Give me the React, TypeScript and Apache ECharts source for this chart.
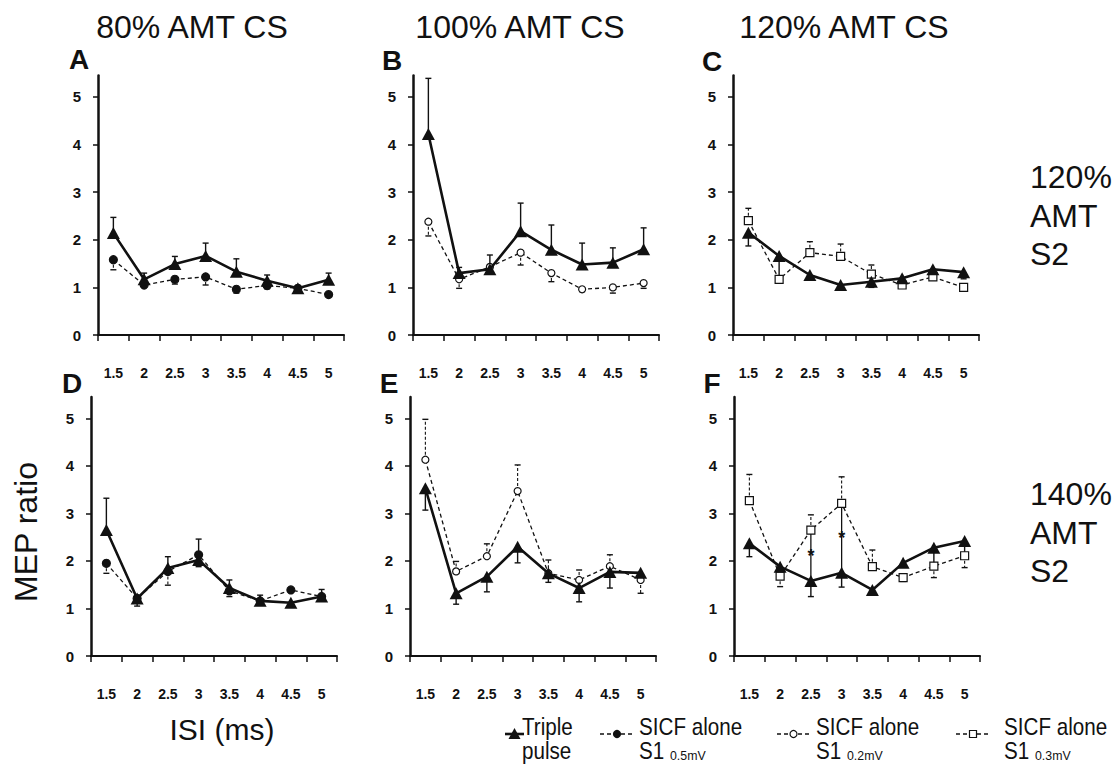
import React, { useEffect, useRef } from "react";
import * as echarts from "echarts";

const ISI = ["1.5", "2", "2.5", "3", "3.5", "4", "4.5", "5"];
const Y_TICKS = [0, 1, 2, 3, 4, 5];

// Panel A: 80% AMT CS, 120% AMT S2 (SICF S1 0.5 mV)
const A_TRIPLE = [2.14, 1.17, 1.49, 1.66, 1.33, 1.14, 0.98, 1.16];
const A_TRIPLE_ERR = [0.33, 0.13, 0.16, 0.27, 0.27, 0.12, 0.05, 0.14];
const A_SICF = [1.58, 1.05, 1.17, 1.22, 0.96, 1.04, 0.98, 0.85];
const A_SICF_ERR = [-0.21, -0.05, -0.1, -0.17, -0.08, -0.07, -0.03, -0.03];

// Panel B: 100% AMT CS, 120% AMT S2 (SICF S1 0.2 mV)
const B_TRIPLE = [4.22, 1.3, 1.38, 2.18, 1.79, 1.48, 1.52, 1.8];
const B_TRIPLE_ERR = [1.17, 0.12, 0.3, 0.59, 0.52, 0.45, 0.31, 0.45];
const B_SICF = [2.38, 1.17, 1.43, 1.73, 1.3, 0.96, 1.0, 1.09];
const B_SICF_ERR = [-0.3, -0.19, -0.1, -0.26, -0.18, -0.05, -0.12, -0.11];

// Panel C: 120% AMT CS, 120% AMT S2 (SICF S1 0.3 mV)
const C_TRIPLE = [2.15, 1.66, 1.26, 1.05, 1.12, 1.19, 1.38, 1.32];
const C_TRIPLE_ERR = [-0.28, -0.46, -0.08, -0.05, -0.12, -0.05, -0.05, -0.14];
const C_SICF = [2.4, 1.17, 1.73, 1.65, 1.28, 1.05, 1.22, 1.0];
const C_SICF_ERR = [0.26, 0.05, 0.23, 0.26, 0.19, 0.04, 0.05, 0.04];

// Panel D: 80% AMT CS, 140% AMT S2 (SICF S1 0.5 mV)
const D_TRIPLE = [2.65, 1.21, 1.85, 2.02, 1.43, 1.16, 1.12, 1.25];
const D_TRIPLE_ERR = [0.67, -0.16, 0.24, 0.44, 0.17, 0.12, -0.05, 0.15];
const D_SICF = [1.95, 1.21, 1.78, 2.13, 1.37, 1.16, 1.39, 1.25];
const D_SICF_ERR = [-0.21, -0.05, -0.29, -0.25, -0.12, -0.05, -0.05, -0.05];

// Panel E: 100% AMT CS, 140% AMT S2 (SICF S1 0.2 mV)
const E_TRIPLE = [3.53, 1.32, 1.67, 2.3, 1.74, 1.43, 1.77, 1.75];
const E_TRIPLE_ERR = [-0.46, -0.23, -0.32, -0.34, -0.19, -0.29, -0.34, -0.05];
const E_SICF = [4.13, 1.78, 2.1, 3.47, 1.74, 1.6, 1.89, 1.6];
const E_SICF_ERR = [0.85, 0.21, 0.26, 0.55, 0.28, 0.21, 0.24, -0.28];

// Panel F: 120% AMT CS, 140% AMT S2 (SICF S1 0.3 mV)
const F_TRIPLE = [2.37, 1.88, 1.58, 1.75, 1.39, 1.96, 2.28, 2.42];
const F_TRIPLE_ERR = [-0.28, -0.05, -0.33, -0.3, -0.05, -0.05, -0.35, -0.3];
const F_SICF = [3.27, 1.68, 2.65, 3.21, 1.88, 1.65, 1.89, 2.11];
const F_SICF_ERR = [0.55, -0.22, 0.32, 0.56, 0.35, -0.08, -0.24, -0.25];

// Significance markers in F: [category index, from, to, star position]
const F_SIG = [
  [2, 1.58, 2.65, 2.16],
  [3, 1.75, 3.21, 2.55],
];

const COL_TITLES = ["80% AMT CS", "100% AMT CS", "120% AMT CS"];
const PANEL_LETTERS = ["A", "B", "C", "D", "E", "F"];

const FONT = "'Liberation Sans', Arial, Helvetica, sans-serif";
const INK = "#111";

type Panel = {
  triple: number[];
  tripleErr: number[];
  sicf: number[];
  sicfErr: number[];
  kind: "filled" | "circle" | "square";
};

const PANELS: Panel[] = [
  { triple: A_TRIPLE, tripleErr: A_TRIPLE_ERR, sicf: A_SICF, sicfErr: A_SICF_ERR, kind: "filled" },
  { triple: B_TRIPLE, tripleErr: B_TRIPLE_ERR, sicf: B_SICF, sicfErr: B_SICF_ERR, kind: "circle" },
  { triple: C_TRIPLE, tripleErr: C_TRIPLE_ERR, sicf: C_SICF, sicfErr: C_SICF_ERR, kind: "square" },
  { triple: D_TRIPLE, tripleErr: D_TRIPLE_ERR, sicf: D_SICF, sicfErr: D_SICF_ERR, kind: "filled" },
  { triple: E_TRIPLE, tripleErr: E_TRIPLE_ERR, sicf: E_SICF, sicfErr: E_SICF_ERR, kind: "circle" },
  { triple: F_TRIPLE, tripleErr: F_TRIPLE_ERR, sicf: F_SICF, sicfErr: F_SICF_ERR, kind: "square" },
];

const GRID_LEFTS = [98, 413, 733, 91, 410, 734];
const GRID_W = 246;
const ROW_TOP = [75.5, 397];
const ROW_H = [259.5, 259];

function errorSeries(idx: number, vals: number[], errs: number[], dashed: boolean, lw: number) {
  return {
    type: "custom",
    xAxisIndex: idx,
    yAxisIndex: idx,
    z: 3,
    silent: true,
    data: vals.map((v, i) => [i, v, errs[i]]),
    encode: { x: 0, y: 1 },
    renderItem: (_params: any, api: any) => {
      const i = api.value(0);
      const v = api.value(1);
      const e = api.value(2);
      const p0 = api.coord([i, v]);
      const p1 = api.coord([i, v + e]);
      const cap = 3;
      return {
        type: "group",
        children: [
          {
            type: "line",
            shape: { x1: p0[0], y1: p0[1], x2: p1[0], y2: p1[1] },
            style: { stroke: INK, lineWidth: lw, lineDash: dashed ? [3, 2] : null },
          },
          {
            type: "line",
            shape: { x1: p1[0] - cap, y1: p1[1], x2: p1[0] + cap, y2: p1[1] },
            style: { stroke: INK, lineWidth: 1.4 },
          },
        ],
      };
    },
  };
}

function buildOption() {
  const grid: any[] = [];
  const xAxis: any[] = [];
  const yAxis: any[] = [];
  const series: any[] = [];

  PANELS.forEach((p, idx) => {
    const row = idx < 3 ? 0 : 1;
    grid.push({
      left: GRID_LEFTS[idx],
      top: ROW_TOP[row],
      width: GRID_W,
      height: ROW_H[row],
      containLabel: false,
      outerBoundsMode: "none",
    });
    xAxis.push({
      type: "category",
      gridIndex: idx,
      data: ISI,
      boundaryGap: true,
      axisLine: { show: true, lineStyle: { color: INK, width: 2 } },
      axisTick: { show: true, length: 6, inside: false, lineStyle: { color: INK, width: 1.5 } },
      axisLabel: {
        show: true,
        margin: 31,
        color: INK,
        fontSize: 14,
        fontWeight: "bold",
        fontFamily: FONT,
        interval: 0,
      },
      splitLine: { show: false },
    });
    yAxis.push({
      type: "value",
      gridIndex: idx,
      min: 0,
      max: 5.45,
      interval: 1,
      axisLine: { show: true, lineStyle: { color: INK, width: 2.5 } },
      axisTick: {
        show: true,
        length: 5,
        inside: false,
        customValues: Y_TICKS,
        lineStyle: { color: INK, width: 1.5 },
      },
      axisLabel: {
        show: true,
        margin: 17,
        color: INK,
        fontSize: 15,
        fontWeight: "bold",
        fontFamily: FONT,
        customValues: Y_TICKS,
        formatter: (v: number) => (Number.isInteger(v) ? String(v) : ""),
      },
      splitLine: { show: false },
    });

    const sicfSymbol = p.kind === "square" ? "rect" : "circle";
    const sicfFill = p.kind === "filled" ? INK : "#fff";
    const sicfSize = p.kind === "filled" ? 8 : p.kind === "circle" ? 7 : 8;

    series.push(errorSeries(idx, p.sicf, p.sicfErr, true, 1.1));
    series.push({
      type: "line",
      name: p.kind === "filled" ? "SICF alone S1 0.5mV" : p.kind === "circle" ? "SICF alone S1 0.2mV" : "SICF alone S1 0.3mV",
      xAxisIndex: idx,
      yAxisIndex: idx,
      data: p.sicf,
      z: 4,
      symbol: sicfSymbol,
      symbolSize: sicfSize,
      showSymbol: true,
      lineStyle: { color: INK, width: 1.3, type: [4, 3] },
      itemStyle: { color: sicfFill, borderColor: INK, borderWidth: 1.2 },
      emphasis: { disabled: true },
    });
    series.push(errorSeries(idx, p.triple, p.tripleErr, false, 1.4));
    series.push({
      type: "line",
      name: "Triple pulse",
      xAxisIndex: idx,
      yAxisIndex: idx,
      data: p.triple,
      z: 5,
      symbol: "triangle",
      symbolSize: [13, 12],
      showSymbol: true,
      lineStyle: { color: INK, width: 2.6 },
      itemStyle: { color: INK, borderColor: INK, borderWidth: 0 },
      emphasis: { disabled: true },
    });
  });

  // significance lines with stars in panel F
  series.push({
    type: "custom",
    xAxisIndex: 5,
    yAxisIndex: 5,
    z: 3,
    silent: true,
    data: F_SIG,
    encode: { x: 0, y: 1 },
    renderItem: (_params: any, api: any) => {
      const i = api.value(0);
      const a = api.coord([i, api.value(1)]);
      const b = api.coord([i, api.value(2)]);
      const s = api.coord([i, api.value(3)]);
      return {
        type: "group",
        children: [
          {
            type: "line",
            shape: { x1: a[0], y1: a[1], x2: b[0], y2: b[1] },
            style: { stroke: INK, lineWidth: 1.3 },
          },
          {
            type: "text",
            x: s[0],
            y: s[1] + 3,
            style: {
              text: "*",
              fill: INK,
              fontSize: 18,
              fontWeight: "bold",
              fontFamily: FONT,
              align: "center",
              verticalAlign: "middle",
            },
          },
        ],
      };
    },
  });

  const graphic: any[] = [];
  const txt = (text: string, x: number, y: number, size: number, opts: any = {}) => ({
    type: "text",
    x,
    y,
    rotation: opts.rotation || 0,
    scaleX: opts.scaleX || 1,
    silent: true,
    style: {
      text,
      fill: INK,
      fontSize: size,
      fontFamily: FONT,
      fontWeight: opts.bold ? "bold" : "normal",
      align: opts.align || "center",
      verticalAlign: "middle",
    },
  });

  // Column titles
  const titleX = [192, 520, 844];
  COL_TITLES.forEach((t, i) => graphic.push(txt(t, titleX[i], 27, 32)));

  // Panel letters
  const letterPos = [
    [79, 59],
    [392, 60],
    [712, 61],
    [72, 383],
    [389, 383],
    [712, 383],
  ];
  PANEL_LETTERS.forEach((l, i) => graphic.push(txt(l, letterPos[i][0], letterPos[i][1], 28, { bold: true })));

  // Row labels on the right
  ["120%", "AMT", "S2"].forEach((t, i) => graphic.push(txt(t, 1030, 177 + i * 38.5, 32, { align: "left" })));
  ["140%", "AMT", "S2"].forEach((t, i) => graphic.push(txt(t, 1030, 494 + i * 38.5, 32, { align: "left" })));

  // Axis titles
  graphic.push(txt("MEP ratio", 26, 532, 32, { rotation: Math.PI / 2 }));
  graphic.push(txt("ISI (ms)", 222, 729, 30));

  // Legend
  const LS = 0.86;
  const legendText = (t: string, x: number, y: number) => txt(t, x, y, 24, { align: "left", scaleX: LS });
  // Triple pulse
  graphic.push({ type: "line", silent: true, shape: { x1: 505, y1: 734, x2: 524, y2: 734 }, style: { stroke: INK, lineWidth: 2.6 } });
  graphic.push({ type: "polygon", silent: true, shape: { points: [[514.5, 728], [520.5, 739], [508.5, 739]] }, style: { fill: INK } });
  graphic.push(legendText("Triple", 522, 727));
  graphic.push(legendText("pulse", 522, 751));

  const legendSicf = [
    { x0: 600, x1: 634, tx: 639, sub: "0.5mV", kind: "filled" },
    { x0: 777, x1: 810, tx: 816, sub: "0.2mV", kind: "circle" },
    { x0: 956, x1: 990, tx: 1004, sub: "0.3mV", kind: "square" },
  ];
  legendSicf.forEach((l) => {
    const cx = (l.x0 + l.x1) / 2;
    graphic.push({
      type: "line",
      silent: true,
      shape: { x1: l.x0, y1: 734, x2: l.x1, y2: 734 },
      style: { stroke: INK, lineWidth: 1.3, lineDash: [4, 3] },
    });
    if (l.kind === "square") {
      graphic.push({ type: "rect", silent: true, shape: { x: cx - 3.5, y: 730.5, width: 7, height: 7 }, style: { fill: "#fff", stroke: INK, lineWidth: 1.2 } });
    } else {
      graphic.push({
        type: "circle",
        silent: true,
        shape: { cx, cy: 734, r: 3.5 },
        style: { fill: l.kind === "filled" ? INK : "#fff", stroke: INK, lineWidth: 1.2 },
      });
    }
    graphic.push(legendText("SICF alone", l.tx, 727));
    graphic.push(legendText("S1", l.tx, 751));
    graphic.push(txt(l.sub, l.tx + 31, 756, 13, { align: "left", scaleX: 0.95 }));
  });

  return {
    animation: false,
    backgroundColor: "#fff",
    grid,
    xAxis,
    yAxis,
    series,
    graphic: { elements: graphic },
  };
}

export default function App() {
  const ref = useRef<HTMLDivElement | null>(null);
  useEffect(() => {
    if (!ref.current) return;
    const chart = echarts.init(ref.current, null, { renderer: "svg" });
    chart.setOption(buildOption() as any);
    return () => chart.dispose();
  }, []);
  return (
    <div
      ref={ref}
      style={{ position: "fixed", left: 0, top: 0, width: 1114, height: 766, background: "#fff" }}
    />
  );
}
